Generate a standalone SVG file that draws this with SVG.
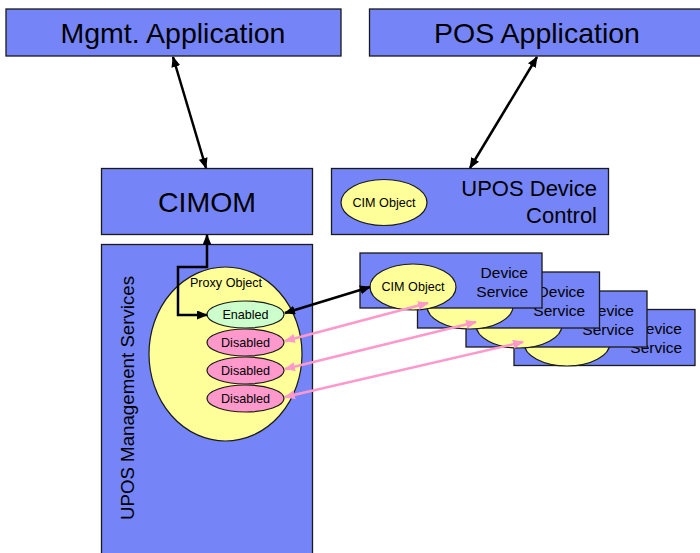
<svg xmlns="http://www.w3.org/2000/svg" width="700" height="553" viewBox="0 0 700 553">
<style>
.box{fill:#7585f8;stroke:#1a1a1a;stroke-width:1.3}
.yel{fill:#ffff99;stroke:#1a1a1a;stroke-width:1.2}
.grn{fill:#ccffcc;stroke:#1a1a1a;stroke-width:1.2}
.pnk{fill:#ff99cc;stroke:#1a1a1a;stroke-width:1.2}
text{font-family:"Liberation Sans",Arial,sans-serif;fill:#000}
.big{font-size:28.5px;text-anchor:middle}
.dc{font-size:22px;text-anchor:end}
.ds{font-size:15.5px;text-anchor:end}
.sm{font-size:12.6px;text-anchor:middle}
.blk{fill:none;stroke:#000;stroke-width:2.5}
.pk{fill:none;stroke:#ff99cc;stroke-width:2.5}
</style>
<defs>
<marker id="ab" markerUnits="userSpaceOnUse" markerWidth="11" markerHeight="9" refX="10" refY="4.5" orient="auto-start-reverse"><path d="M0,0 L11,4.5 L0,9 z" fill="#000"/></marker>
<marker id="ap" markerUnits="userSpaceOnUse" markerWidth="11" markerHeight="9" refX="10" refY="4.5" orient="auto-start-reverse"><path d="M0,0 L11,4.5 L0,9 z" fill="#ff99cc"/></marker>
</defs>
<g id="mgmt-app"><rect class="box" x="6" y="9" width="335" height="47"/><text class="big" x="173" y="43">Mgmt. Application</text></g>
<g id="pos-app"><rect class="box" x="369.5" y="9" width="336" height="47"/><text class="big" x="537" y="43">POS Application</text></g>
<g id="cimom"><rect class="box" x="101.5" y="168.5" width="211" height="66"/><text class="big" x="207" y="212">CIMOM</text></g>
<g id="device-control"><rect class="box" x="331.5" y="168.5" width="277" height="66"/><ellipse class="yel" cx="384" cy="202.5" rx="43" ry="23"/><text class="sm" x="384" y="207">CIM Object</text><text class="dc" x="597" y="196">UPOS Device</text><text class="dc" x="597" y="223">Control</text></g>
<g id="mgmt-services"><rect class="box" x="101.5" y="244.5" width="211" height="320"/><text transform="translate(134,398) rotate(-90)" style="font-size:18.7px;text-anchor:middle">UPOS Management Services</text>
<ellipse class="yel" cx="225.5" cy="354" rx="76.5" ry="87"/><text class="sm" x="226" y="287">Proxy Object</text>
<g id="enabled"><ellipse class="grn" cx="245.5" cy="314.5" rx="38.5" ry="13.5"/><text class="sm" x="245.5" y="319">Enabled</text></g>
<g id="disabled1"><ellipse class="pnk" cx="245.5" cy="342.5" rx="38.5" ry="13.5"/><text class="sm" x="245.5" y="347">Disabled</text></g>
<g id="disabled2"><ellipse class="pnk" cx="245.5" cy="370.5" rx="38.5" ry="13.5"/><text class="sm" x="245.5" y="375">Disabled</text></g>
<g id="disabled3"><ellipse class="pnk" cx="245.5" cy="398.5" rx="38.5" ry="13.5"/><text class="sm" x="245.5" y="403">Disabled</text></g>
</g>
<g id="device-service-4"><rect class="box" x="514" y="309.5" width="181" height="56"/><ellipse class="yel" cx="567" cy="343" rx="43" ry="23"/><text class="ds" x="682" y="334">Device</text><text class="ds" x="682" y="353">Service</text></g>
<g id="device-service-3"><rect class="box" x="466" y="291" width="181" height="56"/><ellipse class="yel" cx="519" cy="325" rx="43" ry="23"/><text class="ds" x="634" y="316">Device</text><text class="ds" x="634" y="335">Service</text></g>
<g id="device-service-2"><rect class="box" x="417.5" y="272" width="182" height="56"/><ellipse class="yel" cx="470" cy="306" rx="43" ry="23"/><text class="ds" x="585" y="297">Device</text><text class="ds" x="585" y="316">Service</text></g>
<g id="device-service-1"><rect class="box" x="360" y="253" width="182" height="55"/><ellipse class="yel" cx="413" cy="287" rx="43" ry="23"/><text class="sm" x="413" y="291">CIM Object</text><text class="ds" x="528" y="278">Device</text><text class="ds" x="528" y="297">Service</text></g>
<g id="connectors">
<line class="blk" x1="173" y1="57" x2="206" y2="168" marker-start="url(#ab)" marker-end="url(#ab)"/>
<line class="blk" x1="537" y1="57" x2="470" y2="168" marker-start="url(#ab)" marker-end="url(#ab)"/>
<path class="blk" d="M207,315 H178 V267 H207 V235" marker-start="url(#ab)" marker-end="url(#ab)"/>
<line class="blk" x1="285" y1="313" x2="370" y2="287" marker-start="url(#ab)" marker-end="url(#ab)"/>
<line class="pk" x1="285" y1="341" x2="428" y2="303" marker-start="url(#ap)" marker-end="url(#ap)"/>
<line class="pk" x1="285" y1="369" x2="476" y2="322" marker-start="url(#ap)" marker-end="url(#ap)"/>
<line class="pk" x1="285" y1="397" x2="523" y2="342" marker-start="url(#ap)" marker-end="url(#ap)"/>
</g>
</svg>
